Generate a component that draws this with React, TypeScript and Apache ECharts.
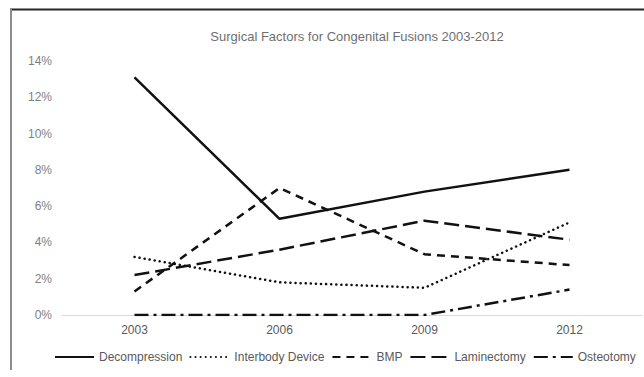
import React, { useEffect, useRef } from "react";
import * as echarts from "echarts";

const years = ["2003", "2006", "2009", "2012"];
const decompression = [13.1, 5.3, 6.8, 8.0];
const interbody = [3.2, 1.8, 1.5, 5.1];
const bmp = [1.3, 7.0, 3.35, 2.75];
const laminectomy = [2.2, 3.6, 5.2, 4.15];
const osteotomy = [0, 0, 0, 1.4];
const yTicks = [0, 2, 4, 6, 8, 10, 12, 14];
const seriesNames = ["Decompression", "Interbody Device", "BMP", "Laminectomy", "Osteotomy"];

const FONT = "Liberation Sans, Arial, sans-serif";

export default function App() {
  const ref = useRef<HTMLDivElement>(null);
  useEffect(() => {
    if (!ref.current) return;
    const chart = echarts.init(ref.current, undefined, { renderer: "svg" });
    const mk = (name: string, data: number[], type: any, cap: any = "butt") => ({
      name,
      type: "line",
      data,
      symbol: "none",
      lineStyle: { color: "#111", width: 2.5, type, cap },
      itemStyle: { color: "#111" },
    });
    chart.setOption({
      animation: false,
      backgroundColor: "#fff",
      textStyle: { fontFamily: FONT },
      title: {
        text: "Surgical Factors for Congenital Fusions 2003-2012",
        left: 352,
        textAlign: "center",
        top: 25,
        textStyle: { fontSize: 13, fontWeight: "normal", color: "#6f6f6f", fontFamily: FONT },
      },
      grid: { left: 62, right: 2, top: 61, bottom: 62, containLabel: false },
      xAxis: {
        type: "category",
        data: years,
        boundaryGap: true,
        axisLine: { show: true, lineStyle: { color: "#d9d9d9", width: 1 } },
        axisTick: { show: false },
        axisLabel: { color: "#595959", fontSize: 12, margin: 9, fontFamily: FONT },
      },
      yAxis: {
        type: "value",
        min: yTicks[0],
        max: yTicks[yTicks.length - 1],
        interval: 2,
        axisLine: { show: false },
        axisTick: { show: false },
        splitLine: { show: false },
        axisLabel: {
          color: "#7f7f7f",
          fontSize: 12,
          margin: 10,
          fontFamily: FONT,
          formatter: (v: number) => v + "%",
        },
      },
      legend: {
        top: 351,
        left: 54,
        width: 600,
        padding: 0,
        itemWidth: 39,
        itemHeight: 10,
        itemGap: 7,
        itemStyle: { opacity: 0 },
        textStyle: { color: "#595959", fontSize: 12, fontFamily: FONT },
        data: seriesNames.map((n) => ({ name: n, itemStyle: { opacity: 0 } })),
      },
      series: [
        mk(seriesNames[0], decompression, "solid"),
        mk(seriesNames[1], interbody, [0.1, 5], "round"),
        mk(seriesNames[2], bmp, [8, 6]),
        mk(seriesNames[3], laminectomy, [15, 6]),
        mk(seriesNames[4], osteotomy, [14, 5, 3, 5]),
      ],
      graphic: [
        { type: "line", shape: { x1: 10, y1: 9.5, x2: 644, y2: 9.5 }, style: { stroke: "#262626", lineWidth: 2 } },
        { type: "line", shape: { x1: 11, y1: 9, x2: 11, y2: 370 }, style: { stroke: "#8c8c8c", lineWidth: 2 } },
      ],
    });
    return () => chart.dispose();
  }, []);
  return <div ref={ref} style={{ width: 644, height: 377, position: "absolute", left: 0, top: 0 }} />;
}
